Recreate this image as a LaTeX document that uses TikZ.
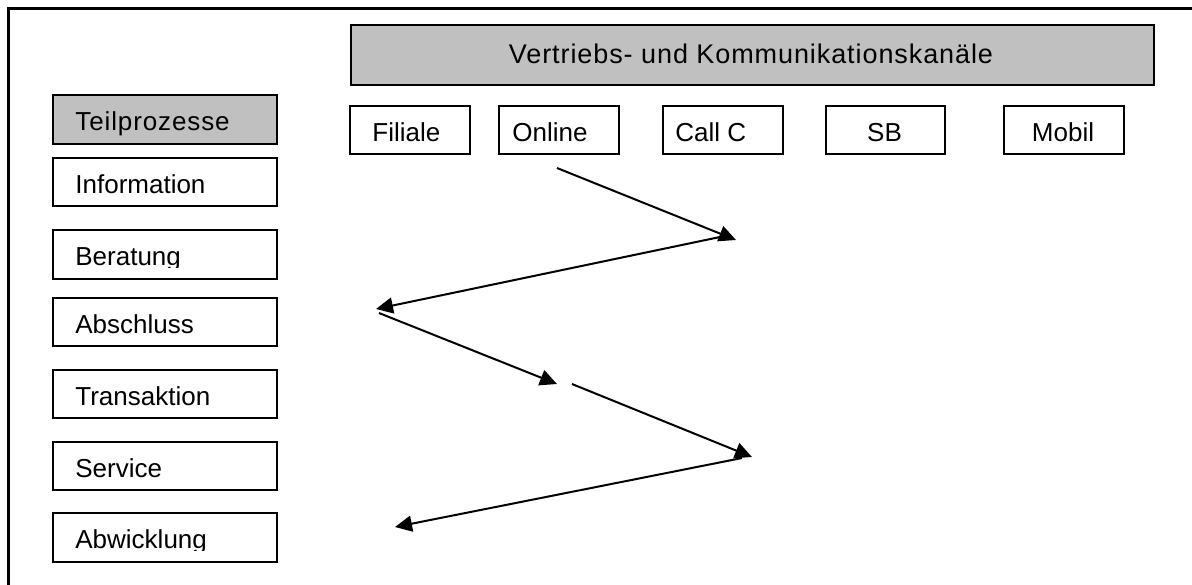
\documentclass[tikz,border=0pt]{standalone}
\usepackage{fontspec}
\setmainfont{Liberation Sans}
\newfontfamily\spacedfont[LetterSpace=3.4]{Liberation Sans}
\usetikzlibrary{arrows.meta}
\definecolor{boxgray}{HTML}{C0C0C0}
\tikzset{
  box/.style={draw=black, line width=1pt, fill=white, inner sep=0pt, anchor=north west},
  graybox/.style={box, fill=boxgray},
  lbl/.style={inner sep=0pt, anchor=base west, font=\fontsize{13pt}{15pt}\selectfont},
  clbl/.style={inner sep=0pt, anchor=base, font=\fontsize{13pt}{15pt}\selectfont},
  glbl/.style={inner sep=0pt, anchor=base west, font=\spacedfont\fontsize{13pt}{15pt}\selectfont},
  hlbl/.style={inner sep=0pt, anchor=base, font=\spacedfont\fontsize{13.5pt}{16pt}\selectfont},
  flow/.style={line width=1pt, -{Triangle[length=8.5pt,width=8pt]}},
}
\begin{document}
\begin{tikzpicture}[x=0.5pt, y=-0.5pt]
\clip (0,0) rectangle (1192,584);
\fill[white] (0,0) rectangle (1192,584);
% outer frame (extends beyond the page)
\draw[line width=1.5pt] (8,8) rectangle (1250,650);
% header
\node[graybox, minimum width=401.5pt, minimum height=30pt] (hdr) at (350,24) {};
\node[hlbl] (hdrt) at (751,63) {Vertriebs- und Kommunikationskan\"ale};
% channels
\node[box, minimum width=60pt, minimum height=24pt] (fil) at (349,105) {};
\node[lbl] (filt) at (372,141) {Filiale};
\node[box, minimum width=60pt, minimum height=24pt] (onl) at (498,105) {};
\node[lbl] (onlt) at (512,141) {Online};
\node[box, minimum width=60pt, minimum height=24pt] (cal) at (662,105) {};
\node[lbl] (calt) at (675,141) {Call C};
\node[box, minimum width=59.5pt, minimum height=24pt] (sb) at (825,105) {};
\node[clbl] (sbt) at (884.5,141) {SB};
\node[box, minimum width=60pt, minimum height=24pt] (mob) at (1003,105) {};
\node[clbl] (mobt) at (1063,141) {Mobil};
% sub-processes
\node[graybox, minimum width=112pt, minimum height=24.5pt] (tp) at (52,94) {};
\node[glbl] (tpt) at (75,130) {Teilprozesse};
\node[box, minimum width=112pt, minimum height=24pt] (inf) at (52,157) {};
\node[lbl] (inft) at (75,193) {Information};
\node[box, minimum width=112pt, minimum height=24.5pt] (ber) at (52,229) {};
\begin{scope}
\clip (52,229) rectangle (276,267);
\node[lbl] (bert) at (75,265) {Beratung};
\end{scope}
\node[box, minimum width=112pt, minimum height=24pt] (abs) at (52,297) {};
\node[lbl] (abst) at (75,333) {Abschluss};
\node[box, minimum width=112pt, minimum height=24pt] (tra) at (52,369) {};
\node[lbl] (trat) at (75,405) {Transaktion};
\node[box, minimum width=112pt, minimum height=24pt] (ser) at (52,441) {};
\node[lbl] (sert) at (75,477) {Service};
\node[box, minimum width=112pt, minimum height=24.5pt] (abw) at (52,512) {};
\begin{scope}
\clip (52,512) rectangle (276,550);
\node[lbl] (abwt) at (75,548) {Abwicklung};
\end{scope}
% zig-zag arrows
\coordinate (p1) at (557,168);
\coordinate (p2) at (736,240);
\coordinate (p3) at (720,237);
\coordinate (p4) at (376,309);
\coordinate (p5) at (379,313);
\coordinate (p6) at (557,384);
\coordinate (p7) at (572,384);
\coordinate (p8) at (752,457);
\coordinate (p9) at (742,458);
\coordinate (p10) at (395,527);
\draw[flow] (p1) -- (p2);
\draw[flow] (p3) -- (p4);
\draw[flow] (p5) -- (p6);
\draw[flow] (p7) -- (p8);
\draw[flow] (p9) -- (p10);
\end{tikzpicture}
\end{document}
